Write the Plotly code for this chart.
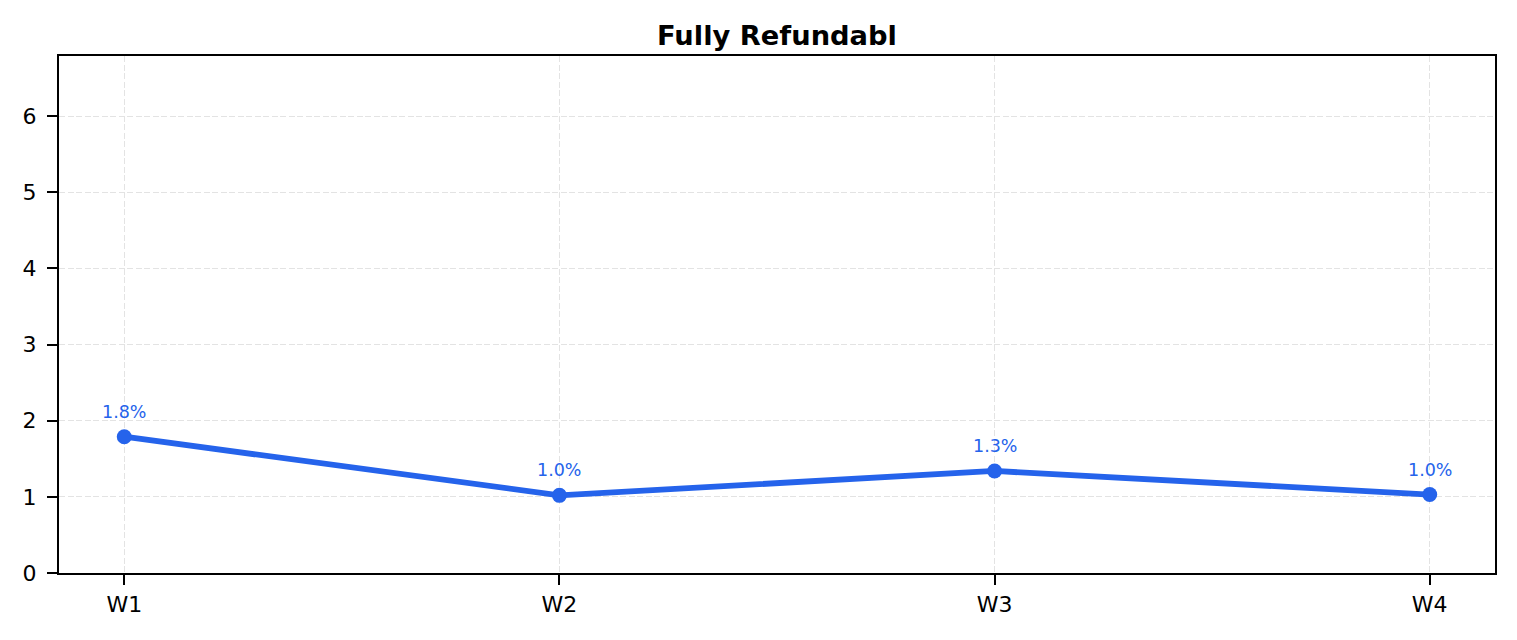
import plotly.graph_objects as go

weeks = ["W1", "W2", "W3", "W4"]
values = [1.79, 1.02, 1.34, 1.03]
labels = ["1.8%", "1.0%", "1.3%", "1.0%"]
y_ticks = [0, 1, 2, 3, 4, 5, 6]

color = "#2563EB"
font = "DejaVu Sans"
grid = "#e3e3e3"

fig = go.Figure()
fig.add_trace(go.Scatter(
    x=list(range(len(weeks))), y=values, mode="lines+markers",
    line=dict(color=color, width=5.8),
    marker=dict(color=color, size=15),
    showlegend=False, hoverinfo="skip",
))
for i, (v, t) in enumerate(zip(values, labels)):
    fig.add_annotation(x=i, y=v, text=t, showarrow=False, yshift=25,
                       font=dict(family=font, size=17.5, color=color))

fig.update_layout(
    width=1509, height=632,
    margin=dict(l=51, r=22, t=48, b=67),
    paper_bgcolor="white", plot_bgcolor="white",
    title=dict(text="<b>Fully Refundabl</b>", x=0.5, xref="paper", xanchor="center",
               y=0.957, yanchor="middle",
               font=dict(family=font, size=27.3, color="black")),
    font=dict(family=font, color="black"),
)
axis_common = dict(
    showline=True, linecolor="black", linewidth=2.2, mirror=True,
    ticks="outside", ticklen=10, tickwidth=2.2, tickcolor="black",
    tickfont=dict(size=22, family=font, color="black"),
    showgrid=True, gridcolor=grid, griddash="6px,2.5px", gridwidth=1.4, zeroline=False,
)
fig.update_xaxes(range=[-0.15, 3.15], tickmode="array",
                 tickvals=list(range(len(weeks))), ticktext=weeks, **axis_common)
fig.update_yaxes(range=[0, 6.79], tickmode="array", tickvals=y_ticks,
                 ticklabelstandoff=6, **axis_common)

fig.write_html("out.html")
